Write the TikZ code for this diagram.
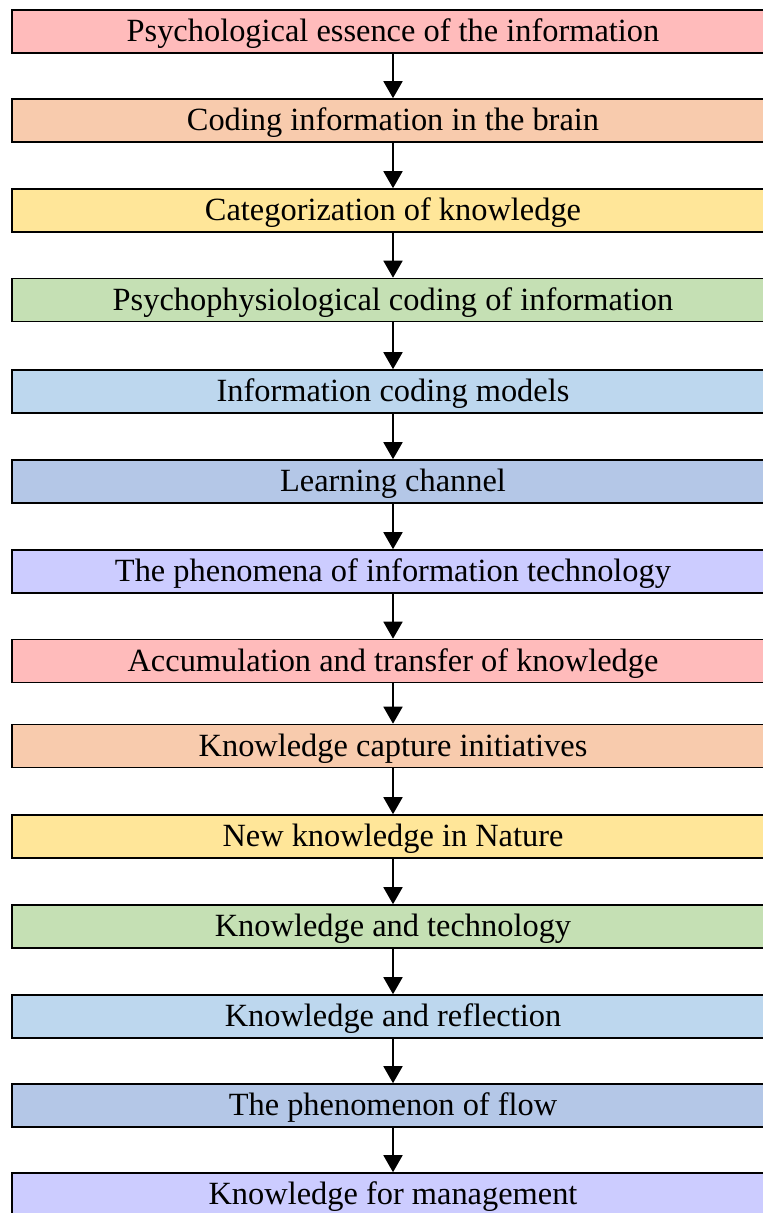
\documentclass[tikz,border=0pt]{standalone}
\usepackage{fontspec}
\setmainfont{Liberation Serif}
\usetikzlibrary{arrows.meta}

\definecolor{boxpink}{HTML}{FFBBBB}
\definecolor{boxpeach}{HTML}{F8CBAD}
\definecolor{boxyellow}{HTML}{FFE699}
\definecolor{boxgreen}{HTML}{C5E0B4}
\definecolor{boxsky}{HTML}{BDD7EE}
\definecolor{boxsteel}{HTML}{B4C7E7}
\definecolor{boxlilac}{HTML}{CCCCFF}

\tikzset{
    topic/.style={draw, line width=1.6pt, minimum width=762pt, minimum height=43pt,
        inner sep=0pt, text height=31.5pt, text depth=11.5pt,
        font=\fontsize{32.4}{34}\selectfont},
    flow/.style={-{Triangle[width=19pt,length=17pt]}, line width=1.8pt}
}

\begin{document}
\begin{tikzpicture}[x=1pt,y=1pt]

        \useasboundingbox (0,0) rectangle (763,-1213);
        \clip (0,0) rectangle (763,-1213);

        %topics from top to bottom
        \node [topic, fill=boxpink]   (essence)  at (393,-31.5)  {Psychological essence of the information};
        \node [topic, fill=boxpeach]  (brain)    at (393,-120.5) {Coding information in the brain};
        \node [topic, fill=boxyellow] (categ)    at (393,-210.5) {Categorization of knowledge};
        \node [topic, fill=boxgreen]  (psycho)   at (393,-300)   {Psychophysiological coding of information};
        \node [topic, fill=boxsky]    (models)   at (393,-391.5) {Information coding models};
        \node [topic, fill=boxsteel]  (channel)  at (393,-481.5) {Learning channel};
        \node [topic, fill=boxlilac]  (phenom)   at (393,-571.5) {The phenomena of information technology};
        \node [topic, fill=boxpink]   (accum)    at (393,-661)   {Accumulation and transfer of knowledge};
        \node [topic, fill=boxpeach]  (capture)  at (393,-746)   {Knowledge capture initiatives};
        \node [topic, fill=boxyellow] (nature)   at (393,-836.5) {New knowledge in Nature};
        \node [topic, fill=boxgreen]  (techno)   at (393,-926.5) {Knowledge and technology};
        \node [topic, fill=boxsky]    (reflect)  at (393,-1016.5){Knowledge and reflection};
        \node [topic, fill=boxsteel]  (flowph)   at (393,-1105.5){The phenomenon of flow};
        \node [topic, fill=boxlilac]  (manage)   at (393,-1194.5){Knowledge for management};

        %connecting arrows
        \draw [flow] (essence) -- (brain);
        \draw [flow] (brain)   -- (categ);
        \draw [flow] (categ)   -- (psycho);
        \draw [flow] (psycho)  -- (models);
        \draw [flow] (models)  -- (channel);
        \draw [flow] (channel) -- (phenom);
        \draw [flow] (phenom)  -- (accum);
        \draw [flow] (accum)   -- (capture);
        \draw [flow] (capture) -- (nature);
        \draw [flow] (nature)  -- (techno);
        \draw [flow] (techno)  -- (reflect);
        \draw [flow] (reflect) -- (flowph);
        \draw [flow] (flowph)  -- (manage);

\end{tikzpicture}
\end{document}
